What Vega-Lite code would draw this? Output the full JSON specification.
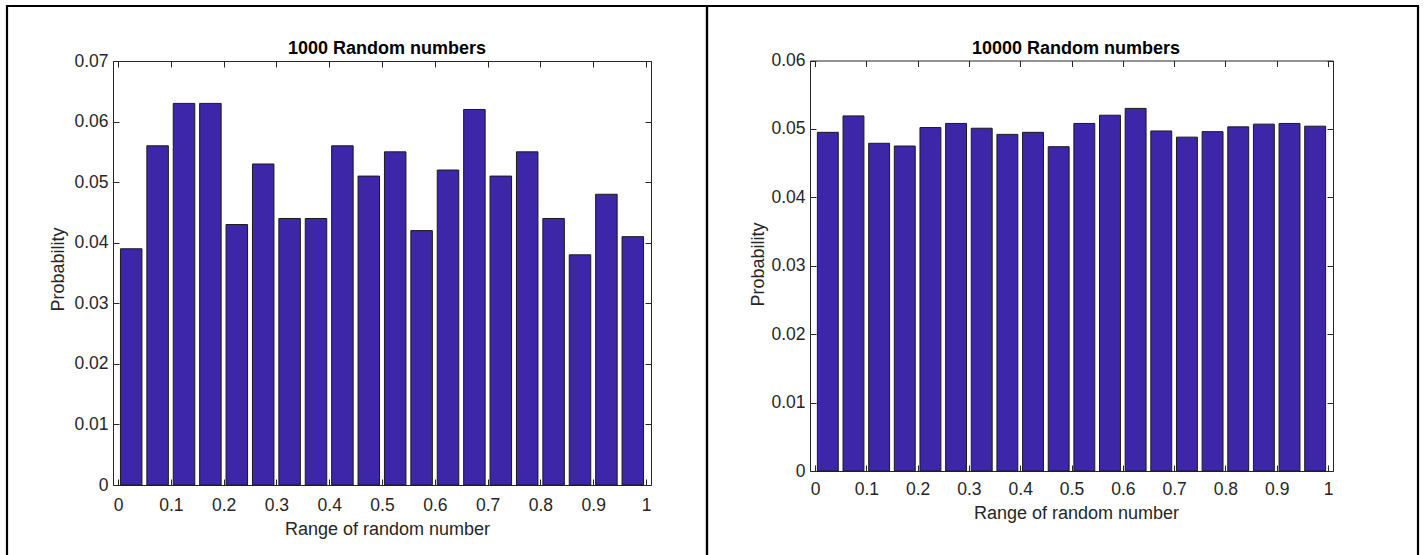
{
  "$schema": "https://vega.github.io/schema/vega-lite/v6.json",
  "padding": {"left": 5, "top": 4, "right": 0, "bottom": 0},
  "background": "white",
  "datasets": {
    "n1000": [
      {"center": 0.025, "probability": 0.039},
      {"center": 0.075, "probability": 0.056},
      {"center": 0.125, "probability": 0.063},
      {"center": 0.175, "probability": 0.063},
      {"center": 0.225, "probability": 0.043},
      {"center": 0.275, "probability": 0.053},
      {"center": 0.325, "probability": 0.044},
      {"center": 0.375, "probability": 0.044},
      {"center": 0.425, "probability": 0.056},
      {"center": 0.475, "probability": 0.051},
      {"center": 0.525, "probability": 0.055},
      {"center": 0.575, "probability": 0.042},
      {"center": 0.625, "probability": 0.052},
      {"center": 0.675, "probability": 0.062},
      {"center": 0.725, "probability": 0.051},
      {"center": 0.775, "probability": 0.055},
      {"center": 0.825, "probability": 0.044},
      {"center": 0.875, "probability": 0.038},
      {"center": 0.925, "probability": 0.048},
      {"center": 0.975, "probability": 0.041}
    ],
    "n10000": [
      {"center": 0.025, "probability": 0.0495},
      {"center": 0.075, "probability": 0.0519},
      {"center": 0.125, "probability": 0.0479},
      {"center": 0.175, "probability": 0.0475},
      {"center": 0.225, "probability": 0.0502},
      {"center": 0.275, "probability": 0.0508},
      {"center": 0.325, "probability": 0.0501},
      {"center": 0.375, "probability": 0.0492},
      {"center": 0.425, "probability": 0.0495},
      {"center": 0.475, "probability": 0.0474},
      {"center": 0.525, "probability": 0.0508},
      {"center": 0.575, "probability": 0.0520},
      {"center": 0.625, "probability": 0.0530},
      {"center": 0.675, "probability": 0.0497},
      {"center": 0.725, "probability": 0.0488},
      {"center": 0.775, "probability": 0.0496},
      {"center": 0.825, "probability": 0.0503},
      {"center": 0.875, "probability": 0.0507},
      {"center": 0.925, "probability": 0.0508},
      {"center": 0.975, "probability": 0.0504}
    ]
  },
  "spacing": 0,
  "bounds": "flush",
  "hconcat": [
    {
      "width": 700,
      "height": 552,
      "data": {"name": "n1000"},
      "title": {"text": "1000 Random numbers", "font": "Liberation Sans", "fontSize": 18, "fontWeight": "bold", "color": "#000000", "anchor": "middle", "frame": "group", "baseline": "alphabetic", "offset": 0, "dy": 66, "dx": 30},
      "layer": [
        {
          "mark": {"type": "bar", "width": 21.5, "fill": "#3E26A8", "stroke": "#1a1a1a", "strokeWidth": 1},
          "encoding": {
            "x": {"field": "center", "type": "quantitative",
              "scale": {"domain": [0, 1], "range": [106, 644], "nice": false, "zero": false},
              "axis": {"orient": "bottom", "offset": -73, "values": [0, 0.1, 0.2, 0.3, 0.4, 0.5, 0.6, 0.7, 0.8, 0.9, 1], "format": ".1~f",
                "title": "Range of random number", "titleX": 380, "titleY": 49, "titleBaseline": "alphabetic", "titleAlign": "center",
                "tickSize": -6, "labelPadding": 31, "labelBaseline": "alphabetic", "labelFlush": false, "labelOverlap": false, "labelBound": false}},
            "y": {"field": "probability", "type": "quantitative",
              "scale": {"domain": [0, 0.07], "range": [479, 55], "nice": false},
              "axis": {"orient": "left", "offset": -106, "values": [0, 0.01, 0.02, 0.03, 0.04, 0.05, 0.06, 0.07], "format": ".2~f",
                "title": "Probability", "titleX": -55, "titleY": 263, "titleBaseline": "middle", "titleAlign": "center", "titleAngle": -90,
                "tickSize": -6, "labelPadding": 11, "labelOverlap": false, "labelBound": false}}
          }
        },
        {
          "mark": {"type": "bar", "width": 21.5, "opacity": 0},
          "encoding": {
            "x": {"field": "center", "type": "quantitative",
              "axis": {"orient": "top", "offset": -55, "values": [0, 0.1, 0.2, 0.3, 0.4, 0.5, 0.6, 0.7, 0.8, 0.9, 1], "labels": false, "title": null, "tickSize": -6}},
            "y": {"field": "probability", "type": "quantitative",
              "axis": {"orient": "right", "offset": -56, "values": [0, 0.01, 0.02, 0.03, 0.04, 0.05, 0.06, 0.07], "labels": false, "title": null, "tickSize": -6}}
          }
        }
      ],
      "resolve": {"axis": {"x": "independent", "y": "independent"}}
    },
    {
      "width": 711,
      "height": 552,
      "data": {"name": "n10000"},
      "title": {"text": "10000 Random numbers", "font": "Liberation Sans", "fontSize": 18, "fontWeight": "bold", "color": "#000000", "anchor": "middle", "frame": "group", "baseline": "alphabetic", "offset": 0, "dy": 66, "dx": 13.5},
      "layer": [
        {
          "mark": {"type": "bar", "width": 20.9, "fill": "#3E26A8", "stroke": "#1a1a1a", "strokeWidth": 1},
          "encoding": {
            "x": {"field": "center", "type": "quantitative",
              "scale": {"domain": [0, 1], "range": [103, 626], "nice": false, "zero": false},
              "axis": {"orient": "bottom", "offset": -87, "values": [0, 0.1, 0.2, 0.3, 0.4, 0.5, 0.6, 0.7, 0.8, 0.9, 1], "format": ".1~f",
                "title": "Range of random number", "titleX": 369, "titleY": 47, "titleBaseline": "alphabetic", "titleAlign": "center",
                "tickSize": -6, "labelPadding": 29, "labelBaseline": "alphabetic", "labelFlush": false, "labelOverlap": false, "labelBound": false}},
            "y": {"field": "probability", "type": "quantitative",
              "scale": {"domain": [0, 0.06], "range": [465, 54.5], "nice": false},
              "axis": {"orient": "left", "offset": -103, "values": [0, 0.01, 0.02, 0.03, 0.04, 0.05, 0.06], "format": ".2~f",
                "title": "Probability", "titleX": -52, "titleY": 258, "titleBaseline": "middle", "titleAlign": "center", "titleAngle": -90,
                "tickSize": -6, "labelPadding": 11, "labelOverlap": false, "labelBound": false}}
          }
        },
        {
          "mark": {"type": "bar", "width": 20.9, "opacity": 0},
          "encoding": {
            "x": {"field": "center", "type": "quantitative",
              "axis": {"orient": "top", "offset": -54.5, "values": [0, 0.1, 0.2, 0.3, 0.4, 0.5, 0.6, 0.7, 0.8, 0.9, 1], "labels": false, "title": null, "tickSize": -6}},
            "y": {"field": "probability", "type": "quantitative",
              "axis": {"orient": "right", "offset": -85, "values": [0, 0.01, 0.02, 0.03, 0.04, 0.05, 0.06], "labels": false, "title": null, "tickSize": -6}}
          }
        }
      ],
      "resolve": {"axis": {"x": "independent", "y": "independent"}}
    }
  ],
  "config": {
    "view": {"stroke": "#000000", "strokeWidth": 2.2},
    "axis": {
      "domainColor": "#262626", "domainWidth": 1, "tickColor": "#262626", "tickWidth": 1,
      "labelFont": "Liberation Sans", "labelFontSize": 17.5, "labelColor": "#262626",
      "titleFont": "Liberation Sans", "titleFontSize": 18, "titleFontWeight": "normal", "titleColor": "#262626",
      "grid": false
    }
  }
}
